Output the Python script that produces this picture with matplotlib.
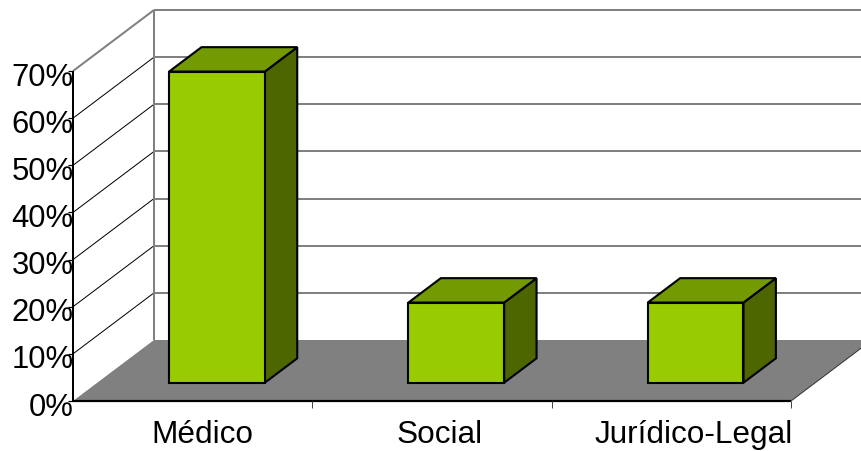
import matplotlib
matplotlib.use("Agg")
import matplotlib.pyplot as plt
from matplotlib.patches import Polygon

# ---- data ----
categories = ["Médico", "Social", "Jurídico-Legal"]
values = [66, 17, 17]            # percent
y_ticks = [0, 10, 20, 30, 40, 50, 60, 70]
y_tick_labels = [f"{t}%" for t in y_ticks]

# ---- layout (pixels) ----
W_PX, H_PX, DPI = 862, 451, 100
ORIGIN_X, ORIGIN_Y = 73, 401      # front-left corner of the floor
CAT_PX = 239.33                   # width of one category slot
PCT_PX = 4.714                    # pixels per percent
DEPTH_PX = (81, 61)               # oblique offset from front to back wall

DX = DEPTH_PX[0] / CAT_PX         # depth offset in category units
DY = DEPTH_PX[1] / PCT_PX         # depth offset in percent units
BAR_HALF = 0.2                    # half bar width (category units)
BAR_D0, BAR_D1 = 0.3, 0.7         # bar front/back depth fractions
Y_MAX = y_ticks[-1]
N = len(categories)

FRONT = "#99CC00"
TOP = "#739A00"
SIDE = "#4D6600"
FLOOR = "#808080"
GRID = "#808080"

label_dx_px = [10, 8, 22]         # horizontal nudge of category labels


def P(c, v, d):
    """Oblique projection: category position, value, depth (0 front .. 1 back)."""
    return (c + d * DX, v + d * DY)


def px(p):
    return p * 0.72  # pixels -> points at 100 dpi


plt.rcParams["font.family"] = ["Liberation Sans", "DejaVu Sans"]
fig = plt.figure(figsize=(W_PX / DPI, H_PX / DPI), dpi=DPI)
ax = fig.add_axes([0, 0, 1, 1])
ax.set_xlim(-ORIGIN_X / CAT_PX, (W_PX - ORIGIN_X) / CAT_PX)
ax.set_ylim(-(H_PX - ORIGIN_Y) / PCT_PX, ORIGIN_Y / PCT_PX)
ax.axis("off")


def poly(pts, fc, ec="none", lw=0, z=1):
    ax.add_patch(Polygon(pts, closed=True, facecolor=fc, edgecolor=ec,
                         linewidth=lw, zorder=z, joinstyle="miter"))


def line(p0, p1, color, lw, z=2):
    ax.plot([p0[0], p1[0]], [p0[1], p1[1]], color=color, lw=lw, zorder=z,
            solid_capstyle="butt")


# walls and floor
poly([P(0, 0, 0), P(0, Y_MAX, 0), P(0, Y_MAX, 1), P(0, 0, 1)], "white", z=1)
poly([P(0, 0, 1), P(N, 0, 1), P(N, Y_MAX, 1), P(0, Y_MAX, 1)], "white", z=1)
poly([P(0, 0, 0), P(N, 0, 0), P(N, 0, 1), P(0, 0, 1)], FLOOR, z=1.5)

# gridlines on back wall and side wall
for t in y_ticks[1:]:
    line(P(0, t, 1), P(N, t, 1), GRID, px(2), z=2)
    if t == Y_MAX:
        line(P(0, t, 0), P(0, t, 1), GRID, px(2), z=2)
    else:
        line(P(0, t, 0), P(0, t, 1), "black", px(1), z=2)
line(P(0, 0, 1), P(0, Y_MAX, 1), GRID, px(2), z=2)

# floor edges
line(P(N, 0, 0), P(N, 0, 1), "#333333", px(1), z=2)
line(P(0, 0, 0), P(N, 0, 0), "black", px(2.2), z=3)

# value axis and ticks
line(P(0, 0, 0), P(0, Y_MAX, 0), "black", px(2), z=3)
tick_len_c = 5 / CAT_PX
for t, lab in zip(y_ticks, y_tick_labels):
    line((-tick_len_c, t), (0, t), "black", px(1.2), z=3)
    ax.text(0.003, t - 14.5 / PCT_PX, lab, ha="right", va="baseline",
            fontsize=22.3, color="black", zorder=4)

# category ticks
for c in range(1, N + 1):
    line((c, 0), (c, -7 / PCT_PX), "#444444", px(1), z=3)

# bars
for i, v in enumerate(values):
    l, r = i + 0.5 - BAR_HALF, i + 0.5 + BAR_HALF
    ek = dict(ec="black", lw=px(2.1), z=5)
    poly([P(r, 0, BAR_D0), P(r, v, BAR_D0), P(r, v, BAR_D1), P(r, 0, BAR_D1)], SIDE, **ek)
    poly([P(l, v, BAR_D0), P(r, v, BAR_D0), P(r, v, BAR_D1), P(l, v, BAR_D1)], TOP, **ek)
    poly([P(l, 0, BAR_D0), P(r, 0, BAR_D0), P(r, v, BAR_D0), P(l, v, BAR_D0)], FRONT, **ek)

# category labels
for i, name in enumerate(categories):
    ax.text(i + 0.5 + label_dx_px[i] / CAT_PX, -42 / PCT_PX, name,
            ha="center", va="baseline", fontsize=22.7, color="black", zorder=4)

fig.savefig("out.png", dpi=DPI)
